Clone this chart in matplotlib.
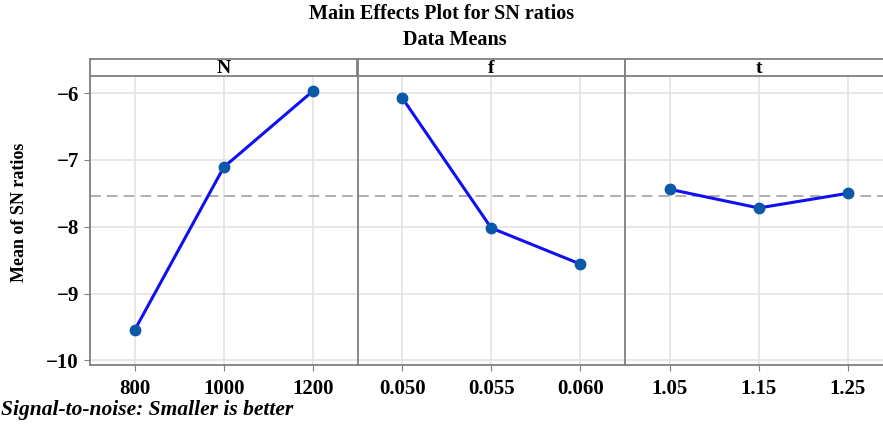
import matplotlib
matplotlib.use("Agg")
import matplotlib.pyplot as plt

# Main effects data (mean of SN ratios per level)
factors = ["N", "f", "t"]
n_levels = ["800", "1000", "1200"]
n_sn = [-9.55, -7.11, -5.97]
f_levels = ["0.050", "0.055", "0.060"]
f_sn = [-6.07, -8.02, -8.56]
t_levels = ["1.05", "1.15", "1.25"]
t_sn = [-7.44, -7.72, -7.50]
y_ticks = [-10, -9, -8, -7, -6]

levels = [n_levels, f_levels, t_levels]
values = [n_sn, f_sn, t_sn]
grand_mean = sum(n_sn) / len(n_sn)

plt.rcParams["font.family"] = ["Liberation Serif", "DejaVu Serif"]

W, H = 883, 426
fig = plt.figure(figsize=(W / 100, H / 100), dpi=100)
fig.patch.set_facecolor("white")

edge = "#7f7f7f"
left_px, panel_w = 90, 267.5
top_px, bottom_px, strip_top = 76, 365, 59

for i, (name, lev, val) in enumerate(zip(factors, levels, values)):
    x0 = (left_px + i * panel_w) / W
    ax = fig.add_axes([x0, (H - bottom_px) / H, panel_w / W, (bottom_px - top_px) / H])
    ax.plot(lev, val, color="#1010f0", lw=2.2, zorder=3)
    ax.plot(lev, val, "o", color="#0b57a8", ms=7.5, zorder=4)
    ax.axhline(grand_mean, color="#9a9a9a", lw=1.1, ls=(0, (7, 4)), zorder=2)
    ax.set_xlim(-0.5, 2.5)
    ax.set_ylim(-10.07, -5.745)
    ax.set_yticks(y_ticks)
    ax.grid(True, color="#e3e3e3", lw=1.2, zorder=0)
    ax.set_axisbelow(True)
    for s in ["top", "right"]:
        ax.spines[s].set_visible(False)
    ax.spines["left"].set_color(edge)
    ax.spines["bottom"].set_color(edge)
    ax.spines["left"].set_linewidth(1.3)
    ax.spines["bottom"].set_linewidth(1.3)
    ax.tick_params(axis="x", length=4, color=edge, labelsize=15, pad=6)
    for lbl in ax.get_xticklabels():
        lbl.set_fontweight("bold")
    if i == 0:
        ax.tick_params(axis="y", length=4, color=edge, labelsize=15, pad=4)
        ax.set_yticklabels([f"\u2212{abs(v)}" for v in y_ticks], fontweight="bold")
    else:
        ax.tick_params(axis="y", length=0, labelleft=False)

    # strip header
    sax = fig.add_axes([x0, (H - top_px) / H, panel_w / W, (top_px - strip_top) / H])
    sax.set_xticks([])
    sax.set_yticks([])
    for s in sax.spines.values():
        s.set_color(edge)
        s.set_linewidth(1.3)
    sax.text(0.5, 0.45, name, ha="center", va="center", fontsize=14,
             fontweight="bold", transform=sax.transAxes)

fig.text(442 / W, 1 - 14 / H, "Main Effects Plot for SN ratios", ha="center", va="center",
         fontsize=14.5, fontweight="bold")
fig.text(455 / W, 1 - 40 / H, "Data Means", ha="center", va="center",
         fontsize=14.5, fontweight="bold")
fig.text(20 / W, 1 - 212 / H, "Mean of SN ratios", rotation=90, ha="center", va="center",
         fontsize=13, fontweight="bold")
fig.text(1 / W, 1 - 410 / H, "Signal-to-noise: Smaller is better", ha="left", va="center",
         fontsize=15.5, fontweight="bold", style="italic")

fig.savefig("out.png", dpi=100)
